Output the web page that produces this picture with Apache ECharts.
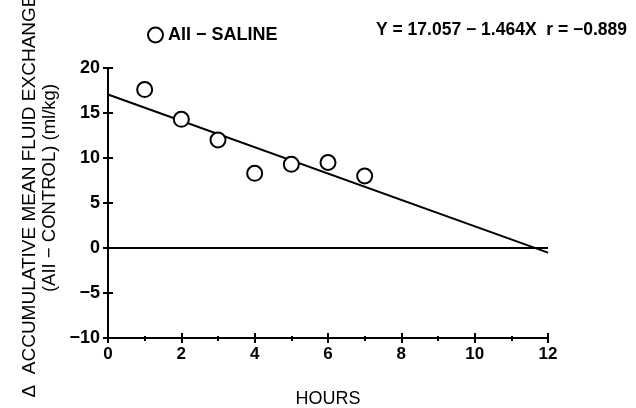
<!DOCTYPE html>
<html>
<head>
<meta charset="utf-8">
<script src="https://cdn.jsdelivr.net/npm/echarts@6/dist/echarts.min.js"></script>
<style>
  html, body { margin: 0; padding: 0; background: #fff; }
  #main { width: 636px; height: 408px; }
</style>
</head>
<body>
<div id="main"></div>
<script>
// measured points (AII - SALINE)
var hours = [1, 2, 3, 4, 5, 6, 7];
var exchange = [17.6, 14.3, 12.0, 8.3, 9.3, 9.5, 8.0];

// regression line Y = 17.057 - 1.464X, drawn from 0 to 12 h
var fitX = [0, 12];
var fitY = [17.057, -0.511];

// zero reference line
var zeroX = [0, 12];
var zeroY = [0, 0];

var xTicks = [0, 2, 4, 6, 8, 10, 12];
var yTicks = [-10, -5, 0, 5, 10, 15, 20];

var FONT = 'Liberation Sans';

function pairs(xs, ys) {
  var out = [];
  for (var i = 0; i < xs.length; i++) {
    out.push([xs[i], ys[i]]);
  }
  return out;
}

function minus(v) {
  return v < 0 ? '\u2212' + Math.abs(v) : String(v);
}

var chart = echarts.init(document.getElementById('main'), null, { renderer: 'canvas' });

var baseX = {
  type: 'value',
  min: xTicks[0],
  max: xTicks[xTicks.length - 1],
  interval: 2,
  position: 'bottom',
  splitLine: { show: false },
  axisLine: { onZero: false, lineStyle: { color: '#000', width: 2 } }
};
var baseY = {
  type: 'value',
  min: yTicks[0],
  max: yTicks[yTicks.length - 1],
  interval: 5,
  position: 'left',
  splitLine: { show: false },
  axisLine: { onZero: false, lineStyle: { color: '#000', width: 2 } }
};

var option = {
  backgroundColor: '#fff',
  animation: false,
  grid: { left: 108, right: 88, top: 68, bottom: 70, containLabel: false, outerBoundsMode: 'none' },
  legend: {
    left: 142,
    top: 21,
    data: ['AII \u2212 SALINE'],
    icon: 'circle',
    itemWidth: 15,
    itemHeight: 15,
    itemGap: 8,
    itemStyle: { color: '#fff', borderColor: '#000', borderWidth: 2 },
    textStyle: { fontFamily: FONT, fontSize: 18, color: '#000', fontWeight: 'bold' }
  },
  xAxis: [
    Object.assign({}, baseX, {
      axisTick: { show: true, inside: false, length: 5, lineStyle: { color: '#000', width: 2 } },
      minorTick: { show: true, splitNumber: 2, length: 3, lineStyle: { color: '#000', width: 2 } },
      axisLabel: {
        margin: 8,
        fontFamily: FONT, fontSize: 17, fontWeight: 'bold', color: '#000',
        formatter: minus
      },
      name: 'HOURS',
      nameLocation: 'middle',
      nameGap: 52,
      nameTextStyle: { fontFamily: FONT, fontSize: 18, color: '#000' }
    }),
    Object.assign({}, baseX, {
      axisLine: { show: false, onZero: false },
      axisTick: { show: true, inside: true, length: 5, lineStyle: { color: '#000', width: 2 } },
      minorTick: { show: true, splitNumber: 2, length: 2, lineStyle: { color: '#000', width: 2 } },
      axisLabel: { show: false }
    })
  ],
  yAxis: [
    Object.assign({}, baseY, {
      axisTick: { show: true, inside: false, length: 5, lineStyle: { color: '#000', width: 2 } },
      axisLabel: {
        margin: 8,
        fontFamily: FONT, fontSize: 18, fontWeight: 'bold', color: '#000',
        formatter: minus
      }
    }),
    Object.assign({}, baseY, {
      axisLine: { show: false, onZero: false },
      axisTick: { show: true, inside: true, length: 5, lineStyle: { color: '#000', width: 2 } },
      axisLabel: { show: false }
    })
  ],
  graphic: [
    {
      type: 'text',
      left: 376,
      top: 21,
      style: {
        text: 'Y = 17.057 \u2212 1.464X  r = \u22120.889',
        fontFamily: FONT, fontSize: 17.5, fontWeight: 'bold', fill: '#000'
      }
    },
    {
      type: 'text',
      x: 30,
      y: 196,
      rotation: Math.PI / 2,
      style: {
        text: '\u0394  ACCUMULATIVE MEAN FLUID EXCHANGE',
        fontFamily: FONT, fontSize: 19, fill: '#000',
        align: 'center', verticalAlign: 'middle'
      }
    },
    {
      type: 'text',
      x: 50,
      y: 188,
      rotation: Math.PI / 2,
      style: {
        text: '(AII \u2212 CONTROL) (ml/kg)',
        fontFamily: FONT, fontSize: 18.5, fill: '#000',
        align: 'center', verticalAlign: 'middle'
      }
    }
  ],
  series: [
    {
      name: 'zero',
      type: 'line',
      data: pairs(zeroX, zeroY),
      showSymbol: false,
      silent: true,
      lineStyle: { color: '#000', width: 2 }
    },
    {
      name: 'fit',
      type: 'line',
      data: pairs(fitX, fitY),
      showSymbol: false,
      silent: true,
      lineStyle: { color: '#000', width: 2 }
    },
    {
      name: 'AII \u2212 SALINE',
      type: 'scatter',
      data: pairs(hours, exchange),
      symbol: 'circle',
      symbolSize: 15,
      itemStyle: { color: '#fff', borderColor: '#000', borderWidth: 2, opacity: 1 },
      z: 5
    }
  ]
};

chart.setOption(option);
</script>
</body>
</html>
